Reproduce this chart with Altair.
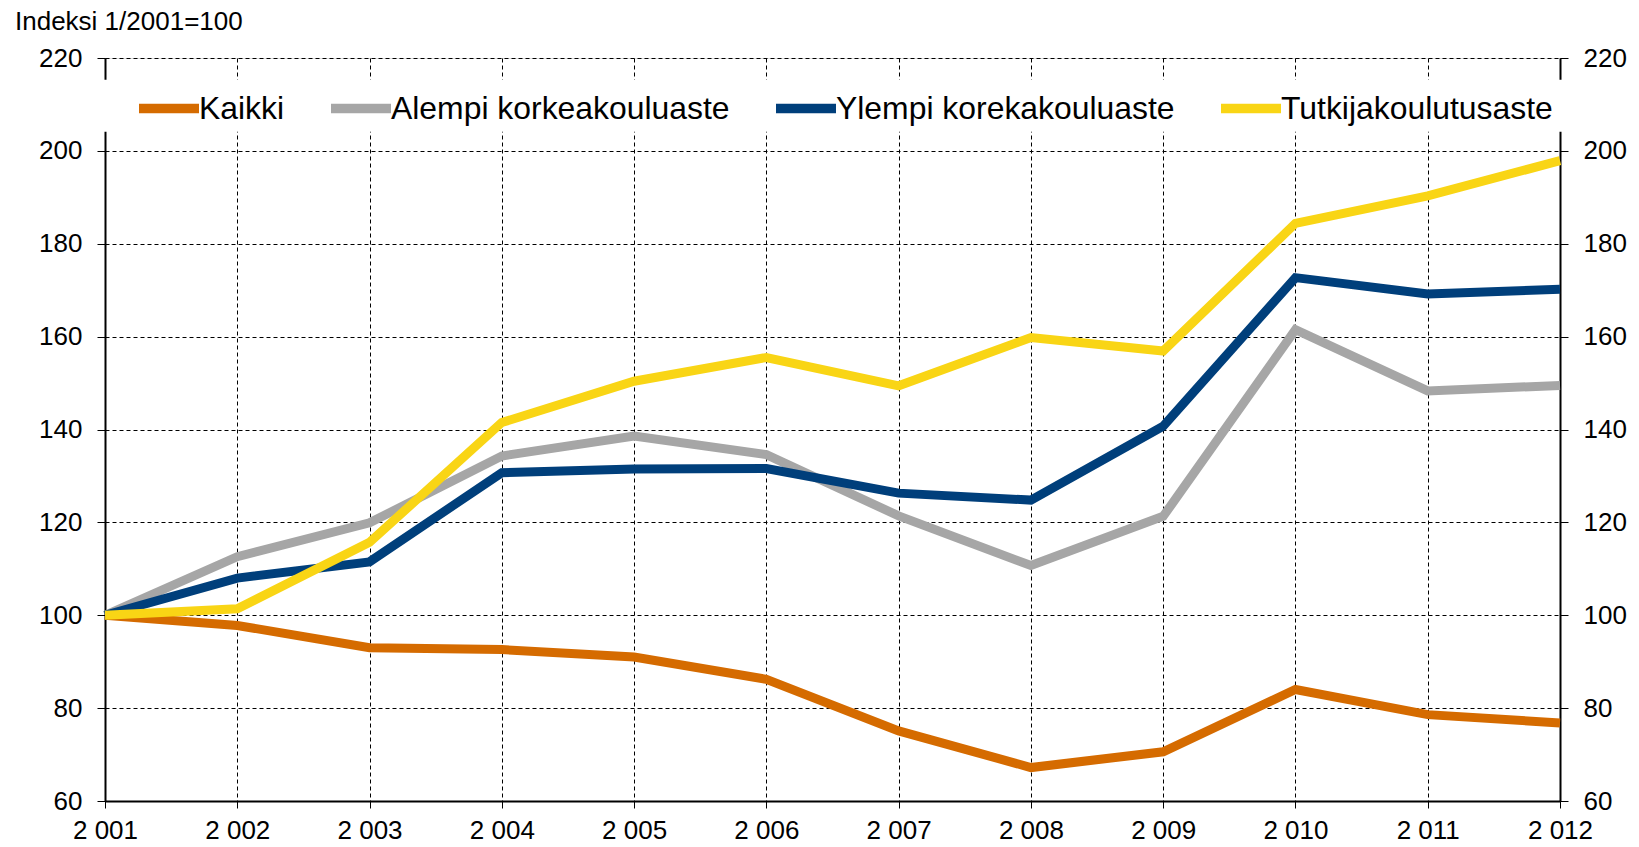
import altair as alt
import pandas as pd

# ---- data ----
years = list(range(2001, 2013))
series_names = ["Kaikki", "Alempi korkeakouluaste", "Ylempi korekakouluaste", "Tutkijakoulutusaste"]
kaikki = [100, 97.8, 93.0, 92.6, 91.0, 86.2, 75.1, 67.2, 70.6, 84.0, 78.6, 76.8]
alempi = [100, 112.6, 119.9, 134.3, 138.6, 134.6, 121.4, 110.7, 121.3, 161.5, 148.3, 149.5]
ylempi = [100, 108.0, 111.5, 130.7, 131.5, 131.6, 126.3, 124.8, 140.7, 172.7, 169.2, 170.2]
tutkija = [100, 101.4, 115.7, 141.5, 150.4, 155.5, 149.4, 159.8, 156.9, 184.4, 190.3, 197.9]
colors = ["#D56B00", "#A6A6A6", "#003F7B", "#F9D515"]
y_ticks = [60, 80, 100, 120, 140, 160, 180, 200, 220]
y_domain = [60, 220]
title_text = "Indeksi 1/2001=100"
legend_band = [215.3, 204.1]  # y-range (index units) of the white legend strip

rows = []
for name, vals in zip(series_names, [kaikki, alempi, ylempi, tutkija]):
    for yr, v in zip(years, vals):
        rows.append({"Vuosi": yr, "Indeksi": v, "Sarja": name})
df = pd.DataFrame(rows)

FONT = "Liberation Sans"
W, H = 1455, 743

yscale = alt.Scale(domain=y_domain, nice=False, zero=False)
xscale = alt.Scale(domain=[years[0], years[-1]], nice=False, zero=False)

common_axis = dict(
    domain=True, domainColor="black", domainWidth=2,
    ticks=True, tickColor="black", tickWidth=1,
    labelColor="black", labelFont=FONT, labelFontSize=26,
    labelOverlap=False, title=None, zindex=0,
)

left_axis = alt.Axis(
    orient="left", values=y_ticks, grid=True, gridColor="black", gridDash=[4, 3],
    gridWidth=1, gridOpacity=1, tickSize=8, labelPadding=15, **common_axis
)
right_axis = alt.Axis(
    orient="right", values=y_ticks, grid=False, tickSize=8, labelPadding=15, **common_axis
)
x_axis = alt.Axis(
    values=years, grid=True, gridColor="black", gridDash=[4, 3], gridWidth=1, gridOpacity=1,
    tickSize=7, labelPadding=9, labelFlush=False, labelBound=False,
    labelExpr="substring(toString(datum.value), 0, 1) + ' ' + substring(toString(datum.value), 1)",
    **common_axis
)

legend = alt.Legend(
    title=None, orient="none", legendX=29, legendY=15.5, direction="horizontal",
    symbolType="stroke", symbolStrokeWidth=9.5, symbolSize=3600,
    labelFont=FONT, labelFontSize=31.9, labelColor="black", labelOffset={"expr": "-5"},
    columnPadding=27, labelLimit=700, padding=0,
)

color = alt.Color("Sarja:N", scale=alt.Scale(domain=series_names, range=colors), legend=legend)

line_layers = []
for name in series_names:
    line_layers.append(
        alt.Chart(df).transform_filter(alt.datum.Sarja == name)
        .mark_line(strokeWidth=9, strokeJoin="miter")
        .encode(
            x=alt.X("Vuosi:Q", scale=xscale, axis=x_axis),
            y=alt.Y("Indeksi:Q", scale=yscale, axis=left_axis),
            color=color,
        )
    )
lines = alt.layer(*line_layers)

band = alt.Chart(pd.DataFrame({"a": [0]})).mark_rect(fill="white", strokeWidth=0).encode(
    x=alt.value(-3),
    x2=alt.value(W + 3),
    y=alt.Y(datum=legend_band[0], type="quantitative", scale=yscale, axis=right_axis),
    y2=alt.Y2(datum=legend_band[1]),
)

title = alt.Chart(pd.DataFrame({"t": [title_text]})).mark_text(
    align="left", baseline="alphabetic", font=FONT, fontSize=26, color="black"
).encode(text="t:N", x=alt.value(-90), y=alt.value(-28.5))

chart = (
    alt.layer(band, lines, title)
    .resolve_axis(y="independent")
    .properties(
        width=W, height=H,
        padding={"left": 97, "top": 50, "right": 68, "bottom": 46},
        autosize=alt.AutoSizeParams(type="none"),
        background="white",
    )
    .configure_view(stroke=None)
    .configure(font=FONT)
)

chart.save("out.html", embed_options={"renderer": "svg", "actions": False})
